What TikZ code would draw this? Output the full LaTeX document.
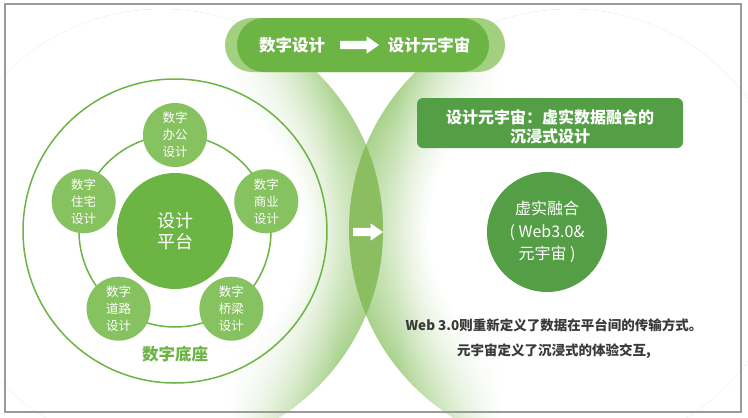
\documentclass[tikz,border=0pt]{standalone}
\usepackage{fontspec}
\setmainfont{Noto Sans CJK SC}
\usetikzlibrary{shapes.arrows,shapes.misc,fadings}
\definecolor{cMain}{HTML}{6CB444}
\definecolor{cLight}{HTML}{A3D07E}
\definecolor{cSat}{HTML}{86C25F}
\definecolor{cDark}{HTML}{549F45}
\definecolor{cLens}{HTML}{8ABE60}
\definecolor{rimg}{HTML}{A9D28C}
\definecolor{cText}{HTML}{3A3A3A}
\definecolor{cFrame}{HTML}{9A9A9A}
\pgfdeclareradialshading{rimshade}{\pgfpoint{0bp}{0bp}}{color(0bp)=(white); color(16bp)=(white); color(25bp)=(rimg); color(50bp)=(rimg)}
\tikzfading[name=whiteL, left color=transparent!0, right color=transparent!100]
\tikzfading[name=whiteR, left color=transparent!100, right color=transparent!0]
\tikzset{
  pill/.style={rounded rectangle, minimum height=54pt, inner sep=0pt},
  sat/.style={circle, fill=cSat, minimum size=64pt, inner sep=0pt, text=white, align=center, font=\fontsize{12.5}{17}\selectfont},
  ringline/.style={circle, draw=cMain, line width=1.5pt, inner sep=0pt},
  whitearrow/.style={single arrow, fill=white, inner sep=0pt, inner ysep=4pt, single arrow head extend=4.5pt, single arrow tip angle=70, single arrow head indent=0pt},
  bantext/.style={text=white, font=\fontsize{16.5}{20}\selectfont\bfseries, inner sep=0pt}
}
\begin{document}
\begin{tikzpicture}[x=1pt,y=-1pt]
\useasboundingbox (0,0) rectangle (748,418);
% right big circle glow
\begin{scope}
\clip (570,230) circle (221);
\shade[shading=rimshade] (570,230) circle (221);
\fill[white] (500,0) rectangle (800,420);
\fill[white, path fading=whiteR] (395,0) rectangle (500,420);
\end{scope}
% left big circle glow
\begin{scope}
\clip (162,230) circle (221);
\shade[shading=rimshade] (162,230) circle (221);
\fill[white] (-60,0) rectangle (230,420);
\fill[white, path fading=whiteL] (230,0) rectangle (338,420);
\end{scope}
% lens
\begin{scope}
\clip (162,230) circle (221);
\fill[cLens] (570,230) circle (221);
\end{scope}
% frame
\draw[cFrame, line width=1.3pt] (5,4) rectangle (741,412);
% banner
\node[pill, fill=cLight, minimum width=280pt] (banL) at (365,45) {};
\node[pill, fill=cMain, minimum width=252pt] (banM) at (363,45) {};
\node[bantext] (t1) at (292,45) {数字设计};
\node[whitearrow, minimum height=39pt] (a1) at (356.5,45) {};
\node[bantext] (t2) at (429,45) {设计元宇宙};
% left diagram
\node[ringline, minimum size=304pt] (outer) at (175,231) {};
\node[ringline, minimum size=192pt] (ring) at (175,231) {};
\node[circle, fill=cMain, minimum size=116pt, inner sep=0pt, text=white, align=center, font=\fontsize{18}{21}\selectfont] (plat) at (175,231) {设计\\平台};
\node[sat] (s1) at (175,135) {数字\\办公\\设计};
\node[sat] (s2) at (266.3,201.3) {数字\\商业\\设计};
\node[sat] (s3) at (231.4,308.7) {数字\\桥梁\\设计};
\node[sat] (s4) at (118.6,308.7) {数字\\道路\\设计};
\node[sat] (s5) at (83.7,201.3) {数字\\住宅\\设计};
\node[text=cMain, font=\fontsize{16.5}{20}\selectfont\bfseries, inner sep=0pt] (base) at (175,354) {数字底座};
% lens arrow
\node[whitearrow, minimum height=30pt] (a2) at (365,232) {};
% right side
\node[rounded corners=6pt, fill=cDark, minimum width=266pt, minimum height=50pt, inner sep=0pt] (box) at (550,123) {};
\node[text=white, align=center, inner sep=0pt, font=\fontsize{16}{19.5}\selectfont\bfseries] (boxtxt) at ([yshift=-4pt]box.center) {设计元宇宙：虚实数据融合的\\沉浸式设计};
\node[circle, fill=cDark, minimum size=120pt, inner sep=0pt, text=white, align=center, font=\fontsize{16}{22.5}\selectfont] (vr) at (547,232) {虚实融合\\( Web3.0\&\\元宇宙 )};
\node[text=cText, align=center, font=\fontsize{13.5}{25}\selectfont\bfseries, inner sep=0pt] (desc) at (554,339) {Web 3.0则重新定义了数据在平台间的传输方式。\\元宇宙定义了沉浸式的体验交互,};
\end{tikzpicture}
\end{document}
